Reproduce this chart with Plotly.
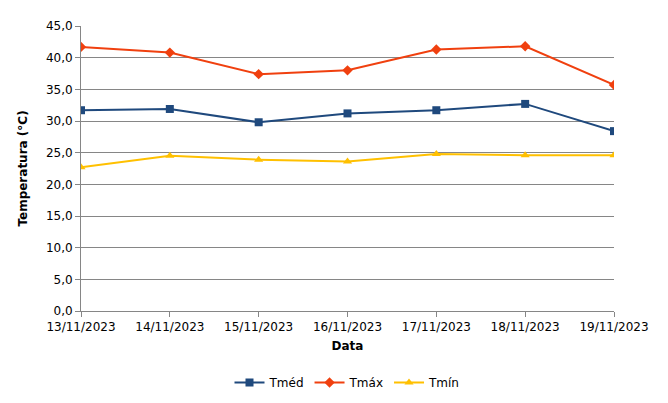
import plotly.graph_objects as go

datas = ["13/11/2023", "14/11/2023", "15/11/2023", "16/11/2023",
         "17/11/2023", "18/11/2023", "19/11/2023"]
tmed = [31.7, 31.9, 29.8, 31.2, 31.7, 32.7, 28.4]
tmax = [41.7, 40.8, 37.4, 38.0, 41.3, 41.8, 35.7]
tmin = [22.7, 24.5, 23.9, 23.6, 24.8, 24.6, 24.6]

fig = go.Figure()
fig.add_trace(go.Scatter(x=datas, y=tmed, name="Tméd", mode="lines+markers",
                         line=dict(color="#1F497D", width=2),
                         marker=dict(symbol="square", size=8)))
fig.add_trace(go.Scatter(x=datas, y=tmax, name="Tmáx", mode="lines+markers",
                         line=dict(color="#F0400F", width=2),
                         marker=dict(symbol="diamond", size=8)))
fig.add_trace(go.Scatter(x=datas, y=tmin, name="Tmín", mode="lines+markers",
                         line=dict(color="#FFC000", width=2),
                         marker=dict(symbol="triangle-up", size=8)))

fig.update_layout(
    width=668, height=403, separators=",.",
    paper_bgcolor="white", plot_bgcolor="white",
    font=dict(family="DejaVu Sans", size=12, color="black"),
    margin=dict(l=73, r=62, t=18, b=100, autoexpand=False),
    legend=dict(orientation="h", x=0.5, xanchor="center", y=-0.2, yanchor="top",
                font=dict(size=12)),
    xaxis=dict(title=dict(text="<b>Data</b>", standoff=8, font=dict(size=12)),
               type="category", range=[0, 6], showline=True, linecolor="#868686",
               ticks="outside", tickcolor="#868686", showgrid=False),
    yaxis=dict(title=dict(text="<b>Temperatura (°C)</b>", font=dict(size=12)),
               range=[0, 45], dtick=5,
               tickformat=".1f", showline=True, linecolor="#868686",
               gridcolor="#868686", ticks="outside", tickcolor="#868686",
               zeroline=False),
)
fig.write_html("out.html")
